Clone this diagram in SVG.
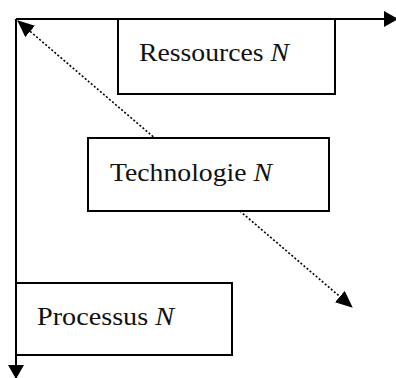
<svg xmlns="http://www.w3.org/2000/svg" width="396" height="378" viewBox="0 0 396 378">
<style>
.box{fill:#fff;stroke:#000;stroke-width:2}
.axis{fill:none;stroke:#000;stroke-width:2}
.dot{fill:none;stroke:#000;stroke-width:1.6;stroke-dasharray:2 2}
.lbl{font-family:"Liberation Serif","DejaVu Serif",serif;font-size:26px;fill:#111}
.it{font-style:italic}
</style>
<defs>
<marker id="ah" markerUnits="userSpaceOnUse" markerWidth="17" markerHeight="15" viewBox="0 0 17 15" refX="16" refY="7.5" orient="auto-start-reverse">
<path d="M0,0 L17,7.5 L0,15 Z" fill="#000"/>
</marker>
<marker id="ahs" markerUnits="userSpaceOnUse" markerWidth="14" markerHeight="16" viewBox="0 0 14 16" refX="13" refY="8" orient="auto">
<path d="M0,0 L14,8 L0,16 Z" fill="#000"/>
</marker>
</defs>
<g id="connectors">
<line class="dot" x1="18" y1="21" x2="352" y2="307" marker-start="url(#ah)" marker-end="url(#ah)"/>
<line class="axis" x1="16" y1="19" x2="397" y2="19" marker-end="url(#ahs)"/>
<line class="axis" x1="16" y1="19" x2="16" y2="378" marker-end="url(#ahs)"/>
</g>
<g id="ressources">
<rect class="box" x="118" y="19" width="217" height="75"/>
<text class="lbl" x="139" y="61" textLength="150" lengthAdjust="spacingAndGlyphs">Ressources <tspan class="it">N</tspan></text>
</g>
<g id="technologie">
<rect class="box" x="88" y="138" width="241" height="73"/>
<text class="lbl" x="110" y="181" textLength="162" lengthAdjust="spacingAndGlyphs">Technologie <tspan class="it">N</tspan></text>
</g>
<g id="processus">
<rect class="box" x="16" y="283" width="216" height="72"/>
<text class="lbl" x="37" y="325" textLength="137" lengthAdjust="spacingAndGlyphs">Processus <tspan class="it">N</tspan></text>
</g>
</svg>
